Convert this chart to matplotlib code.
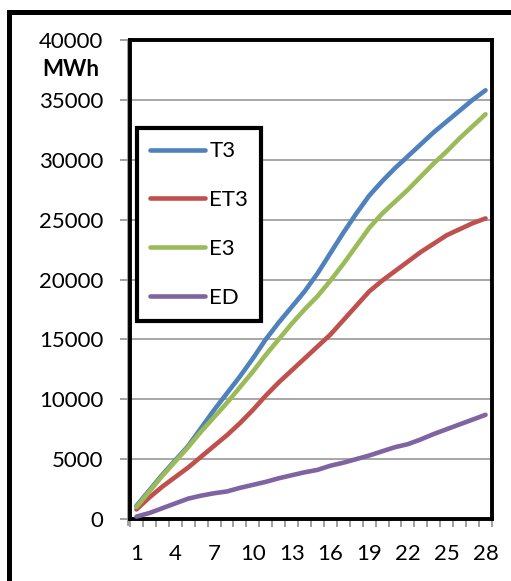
import matplotlib.pyplot as plt
import numpy as np
from matplotlib.patches import Rectangle
from matplotlib.lines import Line2D

plt.rcParams['font.family'] = ['Lato', 'DejaVu Sans']

days = np.arange(1, 29)
T3 = [1100, 2400, 3700, 4900, 6100, 7600, 9100, 10500, 11900, 13400,
      15000, 16400, 17700, 19000, 20500, 22200, 23900, 25500, 27000, 28200,
      29300, 30300, 31300, 32300, 33200, 34100, 35000, 35800]
ET3 = [800, 1800, 2700, 3500, 4300, 5200, 6100, 7000, 8000, 9100,
       10300, 11400, 12400, 13400, 14400, 15400, 16600, 17800, 19000, 19900,
       20700, 21500, 22300, 23000, 23700, 24200, 24700, 25100]
E3 = [1000, 2300, 3600, 4800, 6000, 7300, 8500, 9700, 11000, 12300,
      13700, 15000, 16300, 17500, 18600, 19900, 21300, 22800, 24300, 25500,
      26500, 27500, 28600, 29700, 30700, 31800, 32800, 33800]
ED = [200, 500, 900, 1300, 1700, 1950, 2150, 2300, 2600, 2850,
      3100, 3400, 3650, 3900, 4100, 4450, 4700, 5000, 5300, 5650,
      6000, 6250, 6650, 7100, 7500, 7900, 8300, 8700]

names = ['T3', 'ET3', 'E3', 'ED']
colors = ['#4F81BD', '#C0504D', '#9BBB59', '#8064A2']
series = [T3, ET3, E3, ED]

fig = plt.figure(figsize=(5.11, 5.81), dpi=100)
ax = fig.add_axes([130/511, 62/581, 362/511, 479/581])

for s, c, n in zip(series, colors, names):
    ax.plot(days, s, color=c, lw=3.3, label=n, solid_capstyle='round', zorder=3)

ax.set_xlim(0.5, 28.5)
ax.set_ylim(0, 40000)
ax.set_yticks(np.arange(0, 40001, 5000))
ax.yaxis.grid(True, color='#a0a0a0', lw=1.3)
ax.set_axisbelow(True)
ax.tick_params(axis='y', direction='out', length=7, width=1.2, color='#909090',
               labelsize=16, pad=12)

ax.set_xticks(days[::3])
ax.set_xticks(np.arange(0.5, 29, 1), minor=True)
ax.tick_params(axis='x', which='major', length=0, labelsize=16, pad=18)
ax.tick_params(axis='x', which='minor', direction='out', length=6, width=1.2,
               color='#909090')

for sp in ax.spines.values():
    sp.set_linewidth(2.8)
    sp.set_color('black')

# gray value axis line just outside the plot border
ax.add_line(Line2D([-0.006, -0.006], [-0.012, 1], transform=ax.transAxes,
                   color='#909090', lw=1.2, clip_on=False))

fig.text(71/511, 1 - 70/581, 'MWh', fontsize=16, fontweight='bold',
         ha='center', va='center')

leg = ax.legend(loc='upper left', bbox_to_anchor=(137/511, 1 - 128/581),
                bbox_transform=fig.transFigure, fontsize=16, frameon=True,
                fancybox=False, framealpha=1, borderaxespad=0, borderpad=0.6,
                labelspacing=1.3, handlelength=2.45, handletextpad=0.2)
leg.get_frame().set_edgecolor('black')
leg.get_frame().set_linewidth(3)

# outer chart frame (open to the right and bottom)
fig.patches.append(Rectangle((9/511, -0.2), 2.0, 1 - 12/581 + 0.2,
                             transform=fig.transFigure, fill=False,
                             edgecolor='black', lw=3.6))

fig.savefig('out.png', dpi=100)
